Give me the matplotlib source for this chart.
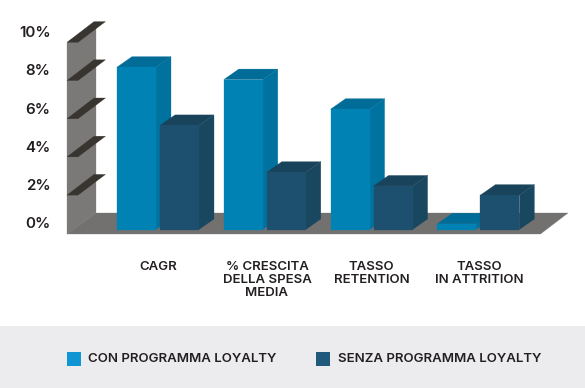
import matplotlib
matplotlib.use("Agg")
import matplotlib.pyplot as plt
from matplotlib.patches import Polygon, Rectangle

categories = ["CAGR", "% CRESCITA\nDELLA SPESA\nMEDIA", "TASSO\nRETENTION", "TASSO\nIN ATTRITION"]
con_loyalty = [8.5, 7.85, 6.3, 0.3]
senza_loyalty = [5.45, 3.0, 2.28, 1.8]
y_ticks = [0, 2, 4, 6, 8, 10]
y_tick_labels = ["0%", "2%", "4%", "6%", "8%", "10%"]
legend_labels = ["CON PROGRAMMA LOYALTY", "SENZA PROGRAMMA LOYALTY"]

FONT = "Inter"
W, H = 585, 388
PY = 19.1          # pixels per unit of value
Y0 = 233.3         # pixel row of value 0 on the wall front edge
BASE = 229.5       # pixel row of the bars' front bottom edge
DX, DY = 15, 10.5  # depth of bars
STEP = 106.8
X0 = 117
BW, GAP = 39, 4

fig = plt.figure(figsize=(W / 100, H / 100), dpi=100)
ax = fig.add_axes([0, 0, 1, 1])
ax.set_xlim(0, W)
ax.set_ylim(H, 0)
ax.axis("off")


def poly(pts, color, z=1):
    ax.add_patch(Polygon(pts, closed=True, fc=color, ec=color, lw=0.2, zorder=z))


def box(x, value, front, side, top, z):
    t = BASE - value * PY
    poly([(x + BW, BASE), (x + BW + DX, BASE - DY), (x + BW + DX, t - DY), (x + BW, t)], side, z)
    poly([(x, t), (x + DX, t - DY), (x + BW + DX, t - DY), (x + BW, t)], top, z)
    poly([(x, BASE), (x + BW, BASE), (x + BW, t), (x, t)], front, z)


# wall and floor
poly([(67, 234), (96, 213), (96, 22), (67, 42.7)], "#7a7977", 1)
poly([(67, 234), (96, 213), (568, 213), (540.5, 234)], "#73716f", 1)

# tick plates and labels
for v, lab in zip(y_ticks, y_tick_labels):
    y = Y0 - v * PY
    if v > 0:
        poly([(67, y), (78, y), (105.5, y - 20.7), (94, y - 20.7)], "#38342f", 2)
    ax.text(50.5, y - 9.2 if v else 224.2, lab, ha="right", va="center", fontsize=10.9,
            family=FONT, weight="semibold", color="#231f20")

# bars
for i in range(len(categories)):
    x = X0 + i * STEP
    box(x, con_loyalty[i], "#0082b4", "#0072a0", "#006c97", 3 + i * 2)
    box(x + BW + GAP, senza_loyalty[i], "#1c506e", "#19475f", "#19435b", 4 + i * 2)

# category labels
label_x = [158.5, 267, 371.5, 479]
for lx, c in zip(label_x, categories):
    ax.text(lx, 260.5, c, ha="center", va="top", fontsize=9.5, family=FONT, weight="semibold",
            color="#231f20", linespacing=1.16)

# legend band
ax.add_patch(Rectangle((0, 326), W, H - 326, fc="#ecebee", ec="none", zorder=0))
for sx, col, tx, lab in zip([67, 316], ["#0f95d3", "#1f5a7d"], [88.5, 337.5], legend_labels):
    ax.add_patch(Rectangle((sx, 352), 14, 14, fc=col, ec="none", zorder=2))
    ax.text(tx, 359, lab, ha="left", va="center", fontsize=9.55, family=FONT, weight="semibold",
            color="#231f20")

fig.savefig("out.png", dpi=100, facecolor="white")
